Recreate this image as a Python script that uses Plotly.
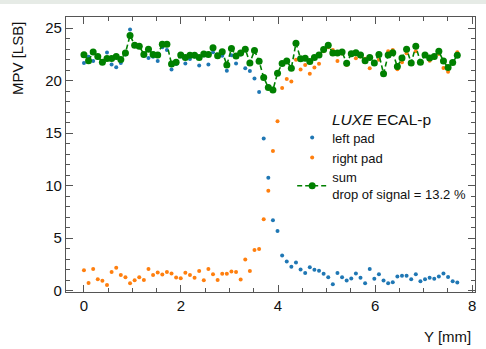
import plotly.graph_objects as go

y_mm = [0.0, 0.095, 0.19, 0.285, 0.38, 0.475, 0.57, 0.665, 0.76, 0.855,
        0.95, 1.045, 1.14, 1.235, 1.33, 1.425, 1.52, 1.615, 1.71, 1.805,
        1.9, 1.995, 2.09, 2.185, 2.28, 2.375, 2.47, 2.565, 2.66, 2.755,
        2.85, 2.945, 3.04, 3.135, 3.23, 3.325, 3.42, 3.515, 3.61, 3.705,
        3.8, 3.895, 3.99, 4.085, 4.18, 4.275, 4.37, 4.465, 4.56, 4.655,
        4.75, 4.845, 4.94, 5.035, 5.13, 5.225, 5.32, 5.415, 5.51, 5.605,
        5.7, 5.795, 5.89, 5.985, 6.08, 6.175, 6.27, 6.365, 6.46, 6.555,
        6.65, 6.745, 6.84, 6.935, 7.03, 7.125, 7.22, 7.315, 7.41, 7.505,
        7.6, 7.695]

left_pad = [21.7, 22.29, 21.87, 22.2, 21.7, 22.7, 21.54, 21.29, 21.7, 22.5,
            24.87, 23.3, 23.2, 22.4, 22.16, 22.29, 21.87, 23.2, 22.93, 21.06,
            21.6, 22.3, 21.64, 22.06, 22.3, 21.45, 22.4, 21.54, 22.71, 22.3,
            22.38, 20.96, 22.42, 21.64, 22.5, 21.19, 20.93, 20.22, 18.93, 14.5,
            10.76, 6.72, 5.68, 3.36, 2.78, 2.29, 2.68, 2.03, 1.68, 2.23,
            2.0, 1.9, 1.61, 1.29, 0.61, 1.68, 1.29, 0.97, 1.16, 1.65,
            1.23, 0.71, 2.07, 1.13, 1.58, 0.97, 0.71, 0.81, 1.36, 1.42,
            1.42, 1.10, 1.58, 0.90, 1.10, 1.23, 1.13, 1.36, 1.65, 1.32,
            0.90, 0.78]

right_pad = [1.94, 0.74, 2.07, 1.10, 0.94, 0.55, 1.78, 2.2, 1.49, 1.29,
             0.71, 1.0, 1.29, 1.03, 2.07, 1.49, 1.74, 1.55, 1.78, 1.65,
             1.26, 1.19, 1.71, 1.49, 1.23, 1.87, 1.0, 2.07, 1.58, 1.03,
             1.61, 1.61, 1.84, 1.78, 1.07, 2.97, 1.87, 3.88, 3.97, 6.81,
             9.53, 13.3, 16.15, 19.31, 20.16, 19.93, 22.0, 21.06, 21.51, 20.67,
             21.25, 21.61, 22.8, 23.2, 22.93, 21.87, 22.6, 21.5, 22.45, 22.13,
             22.3, 22.1, 21.2, 21.6, 22.0, 20.6, 22.8, 22.93, 21.1, 21.77,
             22.61, 21.6, 22.8, 21.7, 22.4, 21.9, 22.2, 22.54, 21.22, 20.85,
             21.7, 22.71]

sum_pads = [22.48, 21.90, 22.74, 22.32, 21.77, 22.12, 22.12, 22.32, 22.03, 22.64,
            24.32, 23.39, 23.29, 22.51, 23.0, 22.51, 22.45, 23.48, 23.48, 21.6,
            21.77, 22.45, 22.22, 22.42, 22.42, 22.22, 22.54, 22.51, 23.13, 22.38,
            22.77, 21.51, 23.06, 22.35, 22.64, 23.0, 21.7, 22.87, 21.85, 20.3,
            19.35, 19.12, 20.72, 21.65, 21.88, 21.2, 23.58, 22.1, 22.13, 21.83,
            22.22, 22.45, 22.97, 23.39, 22.64, 22.64, 22.74, 21.67, 22.58, 22.67,
            22.45, 21.9, 22.22, 21.7, 22.51, 20.67, 22.45, 22.67, 21.35, 22.16,
            23.0, 21.7, 23.29, 21.77, 22.45, 22.16, 22.32, 22.8, 21.87, 21.25,
            21.74, 22.42]

x_ticks = [0, 2, 4, 6, 8]
y_ticks = [0, 5, 10, 15, 20, 25]

FONT = "Liberation Sans, Arial, Helvetica, sans-serif"
AX = "#555555"

fig = go.Figure()
fig.add_trace(go.Scatter(x=y_mm, y=left_pad, mode="markers", name="left pad",
                         marker=dict(color="#1f77b4", size=4)))
fig.add_trace(go.Scatter(x=y_mm, y=right_pad, mode="markers", name="right pad",
                         marker=dict(color="#ff7f0e", size=4)))
fig.add_trace(go.Scatter(x=y_mm, y=sum_pads, mode="lines+markers",
                         name="sum<br>drop of signal = 13.2 %",
                         line=dict(color="green", width=1.6, dash="5px,3px"),
                         marker=dict(color="green", size=7)))

axis_common = dict(showline=True, linecolor=AX, linewidth=1.2, mirror="ticks",
                   ticks="inside", ticklen=7, tickwidth=1.2, tickcolor=AX,
                   showgrid=False, zeroline=False,
                   tickfont=dict(family=FONT, size=15, color="#111"))

fig.update_xaxes(range=[-0.37, 8.06], tickvals=x_ticks,
                 minor=dict(ticks="inside", ticklen=4, tickwidth=1.2, tickcolor=AX, dtick=0.5),
                 **axis_common)
fig.update_yaxes(range=[-0.12, 26.07], tickvals=y_ticks,
                 minor=dict(ticks="inside", ticklen=4, tickwidth=1.2, tickcolor=AX, dtick=1),
                 **axis_common)

fig.update_layout(
    width=486, height=349,
    margin=dict(l=66, r=11, t=17, b=57),
    paper_bgcolor="white", plot_bgcolor="white",
    font=dict(family=FONT, color="#111"),
    showlegend=True,
    legend=dict(x=0.553, y=0.616, xanchor="left", yanchor="top",
                bgcolor="rgba(0,0,0,0)", borderwidth=0,
                font=dict(family=FONT, size=13, color="#111"),
                tracegroupgap=0),
    annotations=[
        dict(text="<i>LUXE</i> ECAL-p", xref="paper", yref="paper",
             x=0.6455, y=0.629, xanchor="left", yanchor="middle", showarrow=False,
             font=dict(family=FONT, size=15.5, color="#111")),
        dict(text="MPV [LSB]", xref="paper", yref="paper", textangle=-90,
             x=-0.1186, y=0.989, xanchor="center", yanchor="top", showarrow=False,
             font=dict(family=FONT, size=15, color="#111")),
        dict(text="Y [mm]", xref="paper", yref="paper",
             x=0.995, y=-0.1636, xanchor="right", yanchor="middle", showarrow=False,
             font=dict(family=FONT, size=15, color="#111")),
    ],
    shapes=[dict(type="rect", xref="paper", yref="paper",
                 x0=-66/409, x1=420/409, y0=1 + 13/275, y1=1 + 17/275,
                 fillcolor="#e6ebe6", line=dict(width=0), layer="below")],
)

fig.write_html("out.html", config={"displayModeBar": False},
               post_script="document.body.style.margin='0';document.body.style.padding='0';")
